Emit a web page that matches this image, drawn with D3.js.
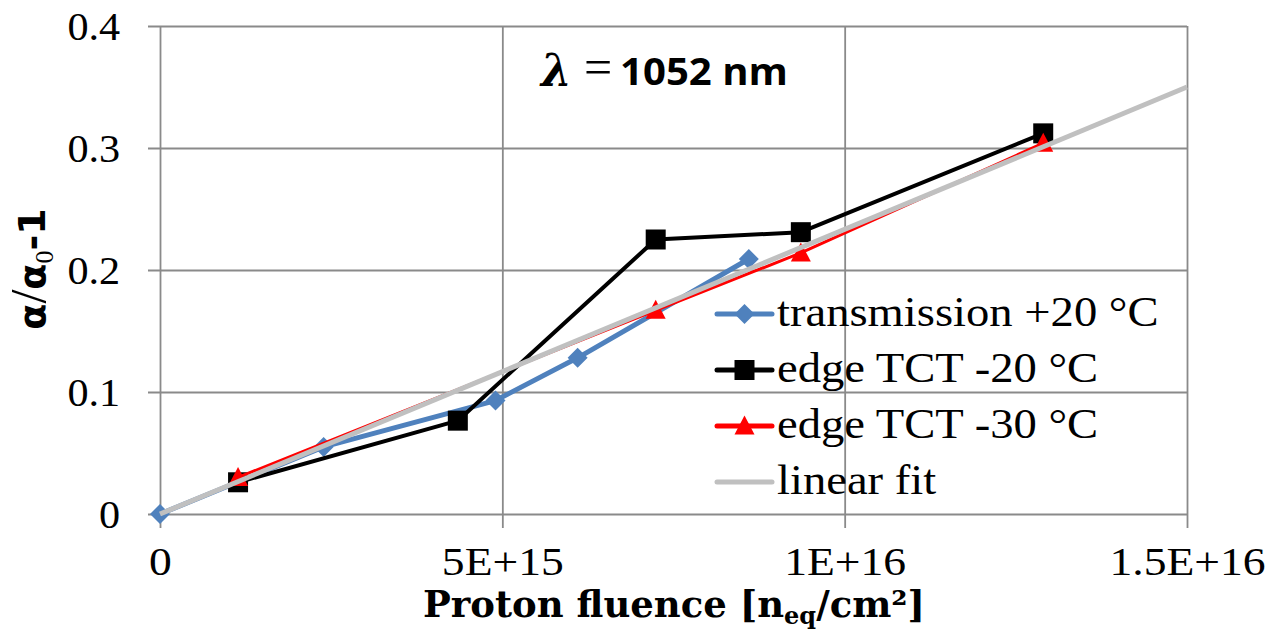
<!DOCTYPE html>
<html>
<head>
<meta charset="utf-8">
<script src="https://cdn.jsdelivr.net/npm/d3@7"></script>
<style>
  html, body { margin: 0; padding: 0; background: #fff; }
  svg { display: block; }
</style>
</head>
<body>
<svg id="chart" width="1270" height="633"></svg>
<script>
// Absorption change vs. proton fluence at 1052 nm
const transX = [0, 2.39e15, 4.90e15, 6.10e15, 8.60e15];
const transY = [0, 0.055, 0.093, 0.128, 0.209];

const tct20X = [1.14e15, 4.35e15, 7.24e15, 9.36e15, 1.29e16];
const tct20Y = [0.026, 0.0765, 0.225, 0.231, 0.312];

const tct30X = [1.14e15, 7.24e15, 9.36e15, 1.29e16];
const tct30Y = [0.030, 0.167, 0.214, 0.304];

const fitX = [0, 1.5e16];
const fitY = [0, 0.35];

const xTicks = [0, 5e15, 1e16, 1.5e16];
const xTickLabels = ["0", "5E+15", "1E+16", "1.5E+16"];
const yTicks = [0, 0.1, 0.2, 0.3, 0.4];
const yTickLabels = ["0", "0.1", "0.2", "0.3", "0.4"];

const seriesNames = ["transmission +20 °C", "edge TCT -20 °C", "edge TCT -30 °C", "linear fit"];

const svg = d3.select("#chart");
const plotLeft = 160, plotRight = 1187, plotTop = 26, plotBottom = 514;
const serif = "'Liberation Serif', 'Times New Roman', serif";
const serifWide = "'DejaVu Serif', serif";

const x = d3.scaleLinear().domain([0, 1.5e16]).range([plotLeft, plotRight]);
const y = d3.scaleLinear().domain([0, 0.4]).range([plotBottom, plotTop]);

const gridColor = "#8a8a8a";

// horizontal grid + y labels
const yAxis = d3.axisLeft(y)
  .tickValues(yTicks)
  .tickFormat((d, i) => yTickLabels[i])
  .tickSizeInner(-(plotRight - 148))
  .tickSizeOuter(0)
  .tickPadding(27);
const gy = svg.append("g").attr("transform", `translate(148,0)`).call(yAxis);
gy.select(".domain").remove();
gy.selectAll(".tick line").attr("stroke", gridColor).attr("stroke-width", 1.8);
gy.selectAll(".tick text")
  .attr("font-family", serif).attr("font-size", 41).attr("fill", "#000")
  .attr("transform", "scale(1.03,1)");

// vertical grid + x labels
const xAxis = d3.axisBottom(x)
  .tickValues(xTicks)
  .tickFormat((d, i) => xTickLabels[i])
  .tickSizeInner(-(528 - plotTop))
  .tickSizeOuter(0)
  .tickPadding(19);
const gx = svg.append("g").attr("transform", `translate(0,528)`).call(xAxis);
gx.select(".domain").remove();
gx.selectAll(".tick line").attr("stroke", gridColor).attr("stroke-width", 1.8);
gx.selectAll(".tick text")
  .attr("font-family", serif).attr("font-size", 40).attr("fill", "#000")
  .attr("transform", "scale(1.14,1)");

// marker shapes
function diamondPath(s) {
  return `M0,${-s}L${s},0L0,${s}L${-s},0Z`;
}
function squarePath(s) {
  return `M${-s},${-s}H${s}V${s}H${-s}Z`;
}
function trianglePath(w, h) {
  return `M0,${-h * 0.55}L${w},${h * 0.45}L${-w},${h * 0.45}Z`;
}

const line = d3.line().x(d => x(d[0])).y(d => y(d[1]));

function drawSeries(xs, ys, color, width, markerPath) {
  const pts = xs.map((v, i) => [v, ys[i]]);
  const g = svg.append("g");
  g.append("path").datum(pts)
    .attr("d", line)
    .attr("fill", "none")
    .attr("stroke", color)
    .attr("stroke-width", width)
    .attr("stroke-linejoin", "round");
  if (markerPath) {
    g.selectAll("path.m").data(pts).join("path")
      .attr("class", "m")
      .attr("d", markerPath)
      .attr("transform", d => `translate(${x(d[0])},${y(d[1])})`)
      .attr("fill", color);
  }
}

const colors = ["#4F81BD", "#000000", "#FF0000", "#C0C0C0"];
const markers = [diamondPath(10), squarePath(10), trianglePath(10, 19), null];

drawSeries(transX, transY, colors[0], 5, markers[0]);
drawSeries(tct20X, tct20Y, colors[1], 4, markers[1]);
drawSeries(tct30X, tct30Y, colors[2], 3, markers[2]);
drawSeries(fitX, fitY, colors[3], 5, null);

// legend
const legendY = [314, 370, 426, 482];
const lg = svg.append("g");
seriesNames.forEach((name, i) => {
  const cy = legendY[i];
  lg.append("line")
    .attr("x1", 717).attr("x2", 772).attr("y1", cy).attr("y2", cy)
    .attr("stroke", colors[i]).attr("stroke-width", 5).attr("stroke-linecap", "round");
  if (markers[i]) {
    lg.append("path").attr("d", markers[i])
      .attr("transform", `translate(744.5,${cy})`)
      .attr("fill", colors[i]);
  }
  lg.append("text")
    .attr("transform", `translate(777,${cy + 12}) scale(1.11,1)`)
    .attr("font-family", serif).attr("font-size", 42)
    .attr("fill", "#000")
    .text(name);
});

// wavelength annotation
const ann = svg.append("g");
ann.append("text").attr("x", 541).attr("y", 86)
  .attr("font-family", serifWide).attr("font-style", "italic").attr("font-weight", "bold")
  .attr("font-size", 44).attr("fill", "#000").text("λ");
ann.append("text").attr("x", 584).attr("y", 84)
  .attr("font-family", serif).attr("font-size", 50).attr("fill", "#000").text("=");
ann.append("text").attr("x", 620).attr("y", 85)
  .attr("font-family", "'Open Sans', sans-serif").attr("font-weight", "bold")
  .attr("font-size", 38).attr("fill", "#000")
  .attr("textLength", 168).attr("lengthAdjust", "spacingAndGlyphs")
  .text("1052 nm");

// x axis title
const xt = svg.append("text")
  .attr("x", 674).attr("y", 617)
  .attr("text-anchor", "middle")
  .attr("font-family", serifWide).attr("font-weight", "bold").attr("font-size", 37)
  .attr("fill", "#000");
xt.append("tspan").text("Proton fluence [n");
xt.append("tspan").attr("font-size", 24).attr("dy", 7).text("eq");
xt.append("tspan").attr("dy", -7).text("/cm²]");

// y axis title
const yt = svg.append("text")
  .attr("transform", "translate(45,269) rotate(-90)")
  .attr("text-anchor", "middle")
  .attr("fill", "#000")
  .attr("font-weight", "bold")
  .attr("font-family", "'DejaVu Sans', sans-serif")
  .attr("font-size", 38);
yt.append("tspan").text("α");
yt.append("tspan").attr("font-family", serif).attr("font-weight", "normal").attr("font-size", 50).text("/");
yt.append("tspan").text("α");
yt.append("tspan").attr("font-family", serif).attr("font-weight", "normal").attr("font-size", 26).attr("dy", 8).text("0");
yt.append("tspan").attr("dy", -8).text("-1");
</script>
</body>
</html>
